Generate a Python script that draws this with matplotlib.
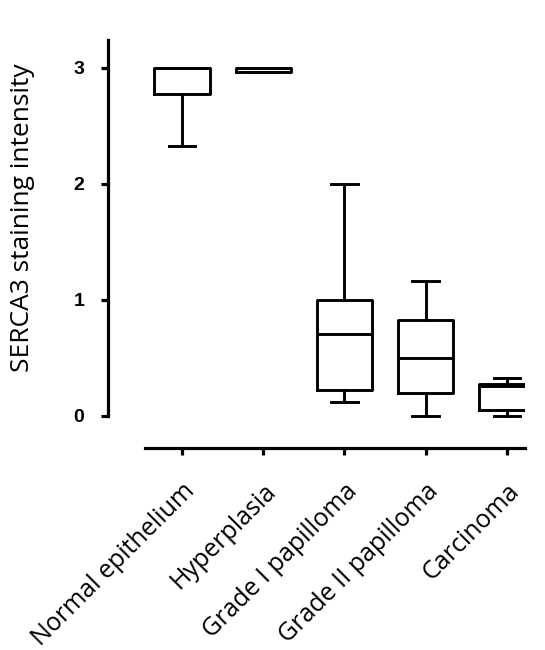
import matplotlib
matplotlib.use("Agg")
import matplotlib.pyplot as plt

# podatki (odčitani s slike)
skupine = ["Normal epithelium", "Hyperplasia", "Grade I papilloma",
           "Grade II papilloma", "Carcinoma"]
spodnji_brk = [2.33, 2.965, 0.12, 0.00, 0.00]
q1 = [2.78, 2.965, 0.22, 0.20, 0.05]
mediana = [3.00, 3.00, 0.71, 0.50, 0.26]
q3 = [3.00, 3.00, 1.00, 0.83, 0.28]
zgornji_brk = [3.00, 3.00, 2.00, 1.16, 0.33]
y_ticki = [0, 1, 2, 3]

stats = []
for i in range(len(skupine)):
    stats.append({"label": skupine[i], "whislo": spodnji_brk[i], "q1": q1[i],
                  "med": mediana[i], "q3": q3[i], "whishi": zgornji_brk[i],
                  "fliers": []})

W, H, DPI = 545, 650, 100
fig = plt.figure(figsize=(W / DPI, H / DPI), dpi=DPI)
# os v pikslih: x 145..525, y 40..448
ax = fig.add_axes([145 / W, 1 - 448 / H, (525 - 145) / W, (448 - 40) / H])

lw = 2.1
ax.bxp(stats, positions=range(1, 6), widths=0.68, capwidths=0.33,
       showfliers=False,
       boxprops=dict(color="black", linewidth=lw),
       whiskerprops=dict(color="black", linewidth=lw),
       capprops=dict(color="black", linewidth=lw),
       medianprops=dict(color="black", linewidth=lw))

ppu = 116.0  # pikslov na enoto
ax.set_ylim(-(448 - 416) / ppu, (416 - 40) / ppu)
ax.set_xlim(1 - 37 / 81.3, 5 + 18 / 81.3)

ax.spines["top"].set_visible(False)
ax.spines["right"].set_visible(False)
ax.spines["left"].set_position(("outward", 37 * 72 / DPI))
ax.spines["left"].set_bounds(0, (416 - 40) / ppu)
for s in ["left", "bottom"]:
    ax.spines[s].set_linewidth(2.3)

ax.set_yticks(y_ticki)
ax.set_yticklabels([str(v) for v in y_ticki], fontfamily="Liberation Sans",
                   fontweight="bold", fontsize=14)
ax.set_xticks(range(1, 6))
ax.set_xticklabels(skupine, rotation=45, ha="right", rotation_mode="anchor",
                   fontfamily="Open Sans", fontsize=18)
ax.tick_params(axis="both", direction="out", length=5, width=2.3)
ax.tick_params(axis="y", pad=12)
ax.tick_params(axis="x", pad=17)

ax.set_ylabel("SERCA3 staining intensity", fontfamily="Open Sans", fontsize=19)
ax.yaxis.set_label_coords(-0.289, 0.564)

fig.savefig("out.png", dpi=DPI)
